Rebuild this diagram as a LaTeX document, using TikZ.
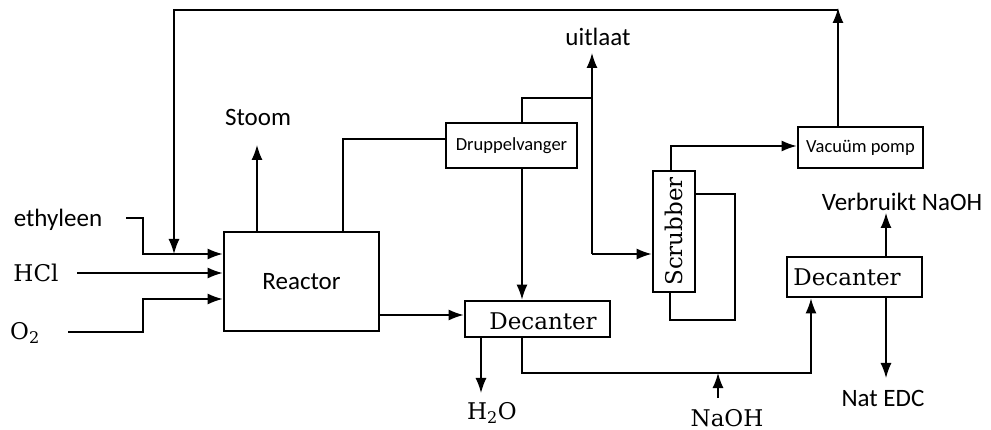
\documentclass[tikz,border=0pt]{standalone}
\usepackage{fontspec}
\newfontfamily\carl{Carlito}
\newfontfamily\dser{DejaVu Serif}
\usetikzlibrary{arrows.meta}
\begin{document}
\begin{tikzpicture}[x=1pt,y=-1pt,
  box/.style={draw, line width=2.8pt, inner sep=0pt},
  ln/.style={line width=1.4pt},
  arr/.style={ln, -{Latex[length=15pt,width=11pt]}},
  sans/.style={font=\carl\fontsize{25}{30}\selectfont, inner sep=0pt},
  smallsans/.style={font=\carl\fontsize{18.5}{22}\selectfont, inner sep=0pt},
  serif/.style={font=\dser\fontsize{23}{28}\selectfont, inner sep=0pt}]
\useasboundingbox (0,0) rectangle (991,430);

% boxes
\node[box, sans, minimum width=155, minimum height=99] (reactor) at (301.5,281.5) {Reactor};
\node[box, smallsans, minimum width=131, minimum height=45] (drup) at (511.5,145.5) {Druppelvanger};
\node[box, minimum width=145, minimum height=36] (dec1) at (537.5,319) {};
\node[serif] (dec1t) at (543,321) {Decanter};
\node[box, serif, minimum width=42, minimum height=121] (scrub) at (674,231.5) {\rotatebox{90}{Scrubber}};
\node[box, smallsans, minimum width=125, minimum height=41] (vac) at (860.5,147.5) {Vacuüm pomp};
\node[box, minimum width=135, minimum height=40] (dec2) at (854.5,277) {};
\node[serif] (dec2t) at (847,277) {Decanter};

% labels
\node[sans] (eth) at (58,220) {ethyleen};
\node[serif] (hcl) at (36,273) {HCl};
\node[serif] (o2) at (25,333) {O\textsubscript{2}};
\node[sans] (stoom) at (258,117) {Stoom};
\node[sans] (uit) at (598,37) {uitlaat};
\node[serif] (h2o) at (492,413) {H\textsubscript{2}O};
\node[serif] (naoh) at (727,418) {NaOH};
\node[sans] (natedc) at (883,398) {Nat EDC};
\node[sans] (verb) at (902,202) {Verbruikt NaOH};

% coordinates
\coordinate (ethS) at (126,218);
\coordinate (ethK) at (143,254);
\coordinate (hclS) at (77,273);
\coordinate (o2S) at (68,332);
\coordinate (o2K) at (143,299);
\coordinate (rcR) at (838,8);
\coordinate (rcL) at (174,10);
\coordinate (stT) at (257,145);
\coordinate (rd) at (343,139);
\coordinate (dt) at (522,98);
\coordinate (uB) at (592,254);
\coordinate (uT) at (592,53);
\coordinate (rdc) at (379,315);
\coordinate (hT) at (481,393);
\coordinate (bl) at (522,373);
\coordinate (br) at (811,373);
\coordinate (nB) at (718,398);
\coordinate (sv) at (671,146);
\coordinate (l1) at (735,194);
\coordinate (l2) at (670,320);
\coordinate (vB) at (886,213);
\coordinate (nE) at (886,378);

% feeds
\draw[arr] (ethS) -| (ethK) -- (reactor.west |- ethK);
\draw[arr] (hclS) -- (reactor.west |- hclS);
\draw[arr] (o2S) -| (o2K) -- (reactor.west |- o2K);

% recycle
\draw[arr] (vac.north -| rcR) -- (rcR);
\draw[arr] (rcR |- rcL) -- (rcL) -- (rcL |- ethK);

% reactor outputs
\draw[arr] (reactor.north -| stT) -- (stT);
\draw[ln] (reactor.north -| rd) |- (drup.west |- rd);
\draw[arr] (reactor.east |- rdc) -- (dec1.west |- rdc);

% druppelvanger
\draw[ln] (drup.north -| dt) |- (uB |- dt);
\draw[arr] (uB) -- (uT);
\draw[arr] (uB) -- (scrub.west |- uB);
\draw[arr] (drup.south -| dt) -- (dec1.north -| dt);

% decanter 1
\draw[arr] (dec1.south -| hT) -- (hT);
\draw[arr] (dec1.south -| bl) -- (bl) -- (br) -- (dec2.south -| br);
\draw[arr] (nB) -- (nB |- bl);

% scrubber
\draw[arr] (scrub.north -| sv) |- (vac.west |- sv);
\draw[ln] (scrub.east |- l1) -| (l1 |- l2) -| (scrub.south -| l2);

% decanter 2
\draw[arr] (dec2.north -| vB) -- (vB);
\draw[arr] (dec2.south -| nE) -- (nE);
\end{tikzpicture}
\end{document}
